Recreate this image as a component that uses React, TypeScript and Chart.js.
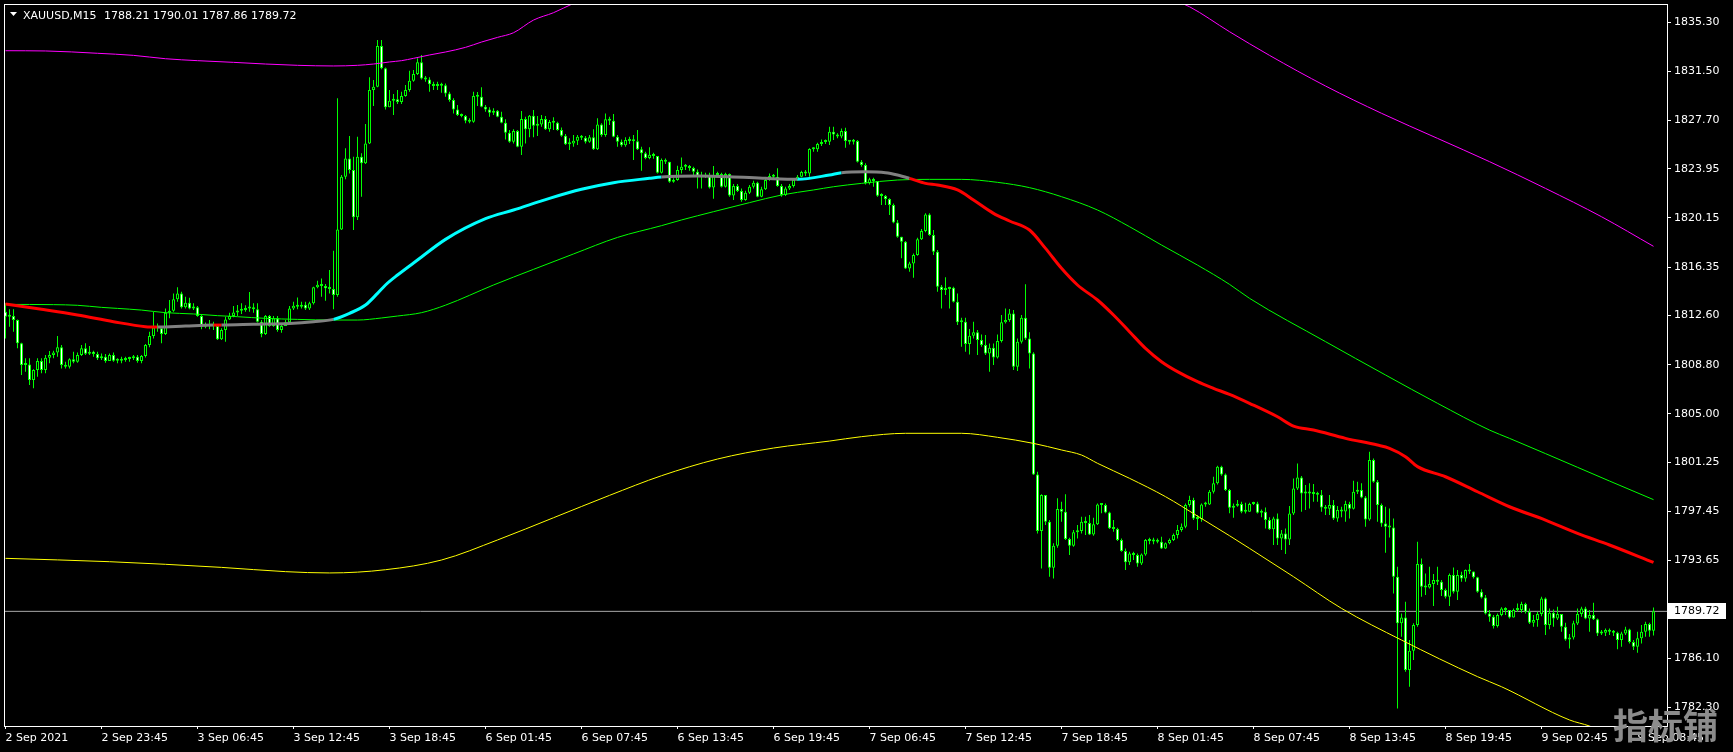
import React, { useEffect, useRef } from "react";
import { Chart, registerables } from "chart.js";

Chart.register(...registerables);

// ---------------- data ----------------
const SYMBOL = "XAUUSD,M15";
const LAST_OHLC = "1788.21 1790.01 1787.86 1789.72";
const CURRENT_PRICE = 1789.72;
const WATERMARK = "指标铺";
const FIRST_OPEN = 1812.9;

const CLOSE = [
  1812.51,1812.56,1812.25,1810.45,1808.77,1808.82,1807.61,1808.38,1809.08,1808.38,
  1809.34,1809.54,1809.73,1810.14,1808.77,1808.64,1809.21,1809.03,1809.54,1810.06,
  1809.65,1809.80,1809.62,1809.29,1809.42,1809.08,1809.54,1809.11,1809.11,1809.16,
  1809.24,1809.29,1809.42,1809.08,1809.47,1810.32,1811.01,1811.68,1811.61,1811.17,
  1812.82,1812.97,1813.85,1814.31,1813.23,1813.59,1813.15,1813.23,1812.56,1811.74,
  1811.84,1811.76,1811.79,1810.76,1811.48,1812.30,1812.56,1812.84,1812.97,1813.02,
  1813.15,1813.15,1813.08,1812.12,1811.17,1812.56,1811.79,1812.38,1811.48,1811.79,
  1812.07,1813.15,1813.36,1813.28,1813.44,1813.15,1813.54,1814.78,1814.98,1814.88,
  1814.70,1814.65,1814.18,1819.26,1823.34,1824.75,1823.85,1820.19,1824.88,1824.37,
  1825.91,1830.04,1830.30,1833.44,1831.72,1828.70,1829.21,1829.32,1829.11,1829.58,
  1830.04,1830.76,1831.28,1832.18,1830.94,1830.86,1830.48,1830.35,1830.37,1830.40,
  1829.78,1829.27,1828.54,1828.11,1828.03,1827.67,1827.59,1829.58,1829.52,1828.75,
  1828.54,1828.29,1828.44,1827.98,1827.51,1826.74,1826.04,1826.87,1825.66,1827.80,
  1827.00,1828.05,1827.28,1827.38,1827.80,1827.00,1827.56,1827.51,1826.95,1826.51,
  1825.84,1825.91,1826.12,1826.43,1826.35,1826.04,1826.38,1825.45,1827.38,1826.56,
  1827.77,1827.67,1826.43,1826.04,1825.76,1826.17,1826.10,1826.07,1825.45,1825.14,
  1824.78,1825.04,1824.94,1823.65,1824.63,1824.50,1822.95,1823.08,1823.85,1824.11,
  1824.11,1824.01,1823.72,1823.34,1823.34,1823.44,1822.51,1823.47,1823.54,1822.56,
  1823.54,1821.89,1822.61,1822.23,1821.53,1822.10,1822.56,1822.87,1821.79,1822.36,
  1823.08,1823.39,1823.34,1822.61,1821.92,1822.43,1822.61,1823.08,1823.34,1823.70,
  1823.59,1825.48,1825.45,1825.86,1826.02,1826.04,1826.82,1826.60,1826.45,1826.87,
  1826.09,1826.04,1826.09,1824.49,1824.24,1822.82,1823.13,1823.00,1821.86,1821.84,
  1821.61,1821.14,1819.80,1818.69,1818.31,1816.24,1816.63,1817.28,1818.49,1819.13,
  1820.42,1818.82,1817.53,1814.83,1814.57,1814.65,1814.75,1813.67,1812.07,1812.12,
  1810.39,1811.04,1811.30,1810.70,1810.31,1809.67,1810.11,1809.36,1810.62,1812.07,
  1812.25,1812.76,1808.64,1810.57,1812.43,1810.83,1809.67,1800.31,1795.93,1798.71,
  1796.65,1793.09,1794.80,1797.63,1797.42,1795.31,1794.80,1795.83,1795.93,1796.65,
  1796.55,1795.67,1796.45,1797.99,1797.94,1797.37,1796.14,1796.09,1795.23,1794.38,
  1793.51,1794.20,1794.07,1793.43,1794.12,1795.23,1795.16,1795.13,1795.10,1794.59,
  1794.98,1795.23,1795.62,1796.01,1796.27,1797.94,1798.33,1796.91,1796.86,1797.99,
  1797.99,1798.97,1799.62,1800.91,1800.31,1799.10,1797.73,1797.89,1798.02,1797.42,
  1797.42,1798.02,1798.07,1797.35,1797.42,1796.78,1796.06,1796.91,1795.36,1795.75,
  1795.28,1797.29,1799.23,1800.08,1798.84,1798.94,1798.84,1798.79,1798.74,1797.76,
  1797.66,1797.94,1796.91,1797.55,1797.45,1798.02,1797.66,1798.97,1799.10,1798.53,
  1796.83,1801.42,1799.74,1797.94,1796.52,1796.26,1796.21,1792.40,1788.79,1789.25,
  1785.18,1786.67,1788.66,1793.38,1791.62,1791.57,1791.83,1792.14,1792.01,1791.37,
  1790.85,1792.53,1791.24,1792.53,1792.27,1792.91,1792.81,1792.35,1791.24,1790.80,
  1789.56,1789.30,1788.58,1789.43,1789.95,1789.82,1789.25,1789.82,1789.82,1790.28,
  1789.69,1788.84,1789.05,1789.51,1790.72,1788.66,1789.61,1789.17,1789.51,1788.53,
  1787.55,1787.70,1788.79,1789.51,1789.95,1789.17,1789.43,1789.10,1788.01,1788.07,
  1788.27,1788.14,1788.07,1787.50,1788.01,1788.32,1787.34,1786.98,1787.63,1788.14,
  1788.74,1788.21,1789.72,
];

const HIGH = [
  1813.54,1813.08,1813.08,1812.30,1810.50,1809.29,1809.29,1808.44,1809.29,1809.29,
  1809.54,1809.85,1809.88,1811.01,1810.32,1809.03,1809.29,1809.80,1809.73,1810.32,
  1810.45,1810.24,1809.88,1809.80,1809.67,1809.62,1809.67,1809.73,1809.29,1809.42,
  1809.42,1809.42,1809.54,1809.54,1809.54,1810.40,1811.35,1812.90,1811.99,1811.61,
  1813.15,1813.80,1814.31,1814.78,1814.44,1814.06,1813.98,1813.54,1813.33,1812.64,
  1812.05,1812.25,1812.12,1811.61,1811.61,1812.51,1812.82,1813.33,1813.41,1813.54,
  1813.39,1814.42,1813.54,1813.54,1812.25,1812.64,1812.64,1812.56,1812.56,1811.94,
  1812.25,1813.33,1813.67,1814.00,1813.67,1813.67,1813.67,1814.83,1815.29,1815.47,
  1815.04,1816.12,1817.61,1829.40,1823.47,1825.53,1826.48,1824.88,1826.43,1825.14,
  1827.41,1831.02,1830.81,1833.91,1833.91,1831.79,1830.04,1829.73,1830.04,1829.91,
  1830.43,1831.53,1831.59,1832.49,1832.75,1831.12,1831.02,1830.68,1830.68,1830.61,
  1830.55,1829.91,1829.40,1828.88,1828.23,1828.11,1827.85,1829.91,1829.88,1830.25,
  1828.88,1828.70,1828.62,1828.49,1828.36,1827.77,1826.95,1827.00,1826.95,1828.42,
  1827.98,1828.11,1828.49,1828.03,1828.11,1828.03,1827.72,1827.93,1827.59,1827.15,
  1826.64,1826.30,1826.56,1826.56,1826.56,1826.48,1826.56,1827.00,1827.85,1827.46,
  1828.23,1827.98,1828.18,1826.56,1826.22,1826.38,1826.43,1826.56,1826.95,1825.66,
  1825.27,1825.61,1825.19,1824.88,1824.75,1824.75,1824.42,1823.21,1824.19,1824.83,
  1824.32,1824.24,1824.11,1823.90,1823.72,1823.65,1823.65,1824.16,1823.72,1823.65,
  1823.65,1823.59,1822.77,1822.77,1822.43,1822.25,1822.69,1823.03,1822.95,1822.56,
  1823.21,1823.59,1823.54,1823.98,1822.77,1822.56,1822.77,1823.21,1823.47,1823.80,
  1823.85,1825.53,1825.61,1825.97,1826.22,1826.22,1827.20,1827.20,1826.69,1827.07,
  1827.12,1826.17,1826.25,1826.17,1824.62,1824.37,1823.26,1823.26,1822.74,1822.05,
  1821.92,1821.66,1821.27,1819.98,1818.69,1818.36,1816.76,1817.40,1818.62,1819.29,
  1820.50,1820.50,1819.21,1817.66,1814.96,1815.55,1814.83,1814.83,1814.31,1812.43,
  1812.43,1811.55,1812.12,1811.48,1811.14,1811.09,1810.44,1810.44,1811.14,1812.64,
  1813.15,1813.10,1813.02,1810.83,1812.64,1815.01,1811.30,1809.75,1800.52,1798.77,
  1798.71,1796.78,1794.98,1798.46,1798.20,1798.77,1795.41,1796.01,1796.39,1797.04,
  1797.04,1797.17,1796.96,1798.07,1798.07,1798.07,1797.42,1796.78,1796.19,1795.36,
  1794.59,1794.33,1794.33,1794.20,1794.20,1795.31,1795.41,1795.41,1795.36,1795.49,
  1795.05,1795.36,1795.75,1796.39,1796.52,1798.07,1798.66,1798.51,1797.17,1798.07,
  1798.20,1799.10,1800.13,1800.98,1800.98,1800.39,1799.18,1798.07,1798.33,1798.20,
  1798.12,1798.12,1798.20,1798.20,1797.60,1797.76,1796.99,1797.04,1797.29,1796.01,
  1796.13,1797.86,1800.00,1801.16,1800.18,1799.49,1799.62,1799.56,1798.97,1799.10,
  1797.94,1798.71,1798.33,1797.86,1797.81,1798.27,1798.20,1799.82,1799.74,1799.62,
  1798.64,1802.06,1801.55,1799.87,1798.07,1797.81,1797.68,1796.91,1793.17,1789.56,
  1790.46,1787.50,1788.79,1795.10,1793.81,1792.65,1793.17,1792.60,1793.17,1792.14,
  1791.49,1792.65,1793.12,1792.91,1792.78,1792.96,1793.38,1792.78,1792.40,1791.42,
  1790.98,1789.82,1789.43,1789.56,1790.03,1790.03,1789.82,1789.95,1790.33,1790.46,
  1790.39,1789.95,1789.43,1789.69,1790.85,1790.80,1789.95,1789.87,1790.08,1789.30,
  1788.84,1787.96,1788.99,1789.95,1790.08,1790.08,1789.82,1790.39,1789.17,1788.27,
  1788.40,1788.40,1788.27,1788.14,1788.14,1788.53,1788.38,1787.50,1788.14,1788.66,
  1788.92,1788.84,1790.01,
];

const LOW = [
  1810.83,1811.74,1811.35,1810.06,1808.00,1808.26,1807.22,1806.97,1807.87,1808.13,
  1808.13,1808.90,1809.29,1809.42,1808.51,1808.51,1808.51,1808.90,1808.95,1809.47,
  1809.54,1809.54,1809.42,1809.16,1809.16,1808.95,1809.42,1809.03,1808.90,1808.90,
  1809.03,1809.03,1809.16,1808.95,1808.90,1809.36,1810.14,1810.83,1811.35,1810.45,
  1811.09,1812.38,1812.90,1813.67,1813.15,1813.15,1813.08,1813.03,1812.51,1811.53,
  1811.61,1811.53,1811.48,1810.71,1810.71,1810.58,1812.25,1812.46,1812.56,1812.72,
  1812.90,1812.90,1812.82,1812.05,1810.91,1811.09,1811.74,1811.74,1811.35,1811.27,
  1811.86,1811.94,1813.03,1813.08,1813.15,1813.03,1813.03,1813.46,1814.70,1814.06,
  1813.75,1814.31,1813.08,1814.06,1819.21,1823.13,1823.59,1819.21,1819.99,1821.79,
  1824.32,1825.86,1828.80,1830.25,1831.64,1828.54,1828.80,1828.11,1828.96,1828.96,
  1829.52,1829.91,1830.68,1831.20,1830.86,1830.68,1829.91,1830.04,1830.04,1829.83,
  1829.52,1829.14,1828.23,1828.03,1827.93,1827.46,1827.46,1827.51,1828.80,1828.70,
  1828.36,1827.98,1828.11,1827.93,1827.46,1826.22,1825.97,1825.91,1825.61,1825.01,
  1825.91,1826.38,1826.38,1826.48,1827.20,1826.95,1826.82,1826.95,1826.89,1826.43,
  1825.79,1825.40,1825.66,1825.79,1826.17,1825.91,1825.97,1825.40,1825.40,1826.43,
  1826.43,1827.33,1826.38,1825.66,1825.66,1825.66,1825.86,1824.63,1825.40,1823.80,
  1824.68,1824.68,1824.73,1823.59,1823.59,1824.32,1822.87,1822.87,1823.03,1823.59,
  1823.85,1823.80,1823.34,1822.43,1822.43,1823.23,1822.43,1821.64,1823.29,1822.51,
  1822.51,1821.79,1821.53,1822.15,1821.40,1821.48,1822.00,1822.43,1821.74,1821.74,
  1822.31,1823.03,1823.13,1822.56,1821.79,1821.84,1822.31,1822.51,1823.03,1823.29,
  1823.39,1823.34,1825.27,1825.27,1825.71,1825.86,1825.79,1826.17,1826.30,1826.30,
  1825.58,1825.83,1825.83,1824.44,1824.11,1822.74,1822.74,1822.56,1821.79,1821.14,
  1821.14,1820.37,1819.73,1818.62,1817.02,1816.19,1815.99,1815.52,1817.22,1818.44,
  1819.03,1818.77,1817.28,1814.44,1813.15,1814.18,1813.15,1813.61,1811.86,1810.19,
  1809.80,1809.59,1810.83,1809.54,1810.19,1809.54,1808.25,1808.77,1809.28,1810.52,
  1811.99,1812.12,1808.38,1808.30,1810.44,1810.70,1808.51,1800.26,1795.75,1793.04,
  1796.39,1792.40,1792.27,1794.64,1796.65,1795.23,1794.07,1794.72,1795.36,1795.75,
  1795.62,1795.62,1795.57,1796.39,1797.30,1797.30,1796.09,1795.88,1795.16,1794.33,
  1792.91,1793.30,1793.69,1793.17,1793.30,1794.02,1794.90,1794.90,1794.98,1794.54,
  1794.54,1794.90,1795.16,1795.36,1795.88,1796.14,1797.81,1796.78,1796.01,1796.65,
  1797.81,1797.94,1798.84,1799.54,1800.21,1799.02,1797.30,1796.96,1797.81,1797.30,
  1797.29,1797.42,1797.94,1797.29,1796.99,1796.13,1796.01,1794.85,1794.85,1794.46,
  1794.15,1794.85,1797.17,1799.10,1797.42,1797.55,1797.68,1798.20,1798.20,1797.42,
  1797.17,1797.17,1796.78,1796.65,1796.99,1796.65,1796.91,1797.60,1798.79,1798.46,
  1796.26,1796.73,1799.67,1796.65,1796.26,1794.25,1795.44,1791.11,1782.21,1787.76,
  1785.05,1783.89,1785.95,1788.53,1790.85,1790.98,1791.49,1790.13,1791.75,1790.90,
  1790.72,1790.13,1791.11,1790.59,1792.01,1792.01,1792.60,1792.27,1791.16,1790.72,
  1789.48,1788.92,1788.40,1788.48,1789.35,1789.43,1789.17,1789.30,1789.69,1789.61,
  1789.56,1788.74,1788.53,1788.53,1789.35,1787.89,1788.33,1788.53,1789.05,1788.14,
  1787.45,1786.85,1787.55,1788.66,1789.30,1789.10,1788.14,1789.05,1787.81,1787.89,
  1787.81,1787.89,1787.81,1786.78,1786.98,1787.89,1787.24,1786.73,1786.52,1787.24,
  1787.76,1787.76,1787.86,
];

// thick trend-coloured moving average (bar index, price)
const MA_IDX = [0,9,18,27,35,38,45,52,54,62,71,77,82,86,90,93,95,98,103,110,120,127,136,144,152,161,164,173,181,190,198,206,209,215,220,223,226,230,233,238,242,247,251,256,260,264,268,273,277,281,285,289,293,298,302,306,311,318,322,327,335,343,346,350,353,360,368,376,385,393,401,412];
const MA_VAL = [1813.49,1813.08,1812.64,1812.12,1811.74,1811.71,1811.79,1811.86,1811.86,1811.92,1811.99,1812.12,1812.30,1812.77,1813.41,1814.31,1814.96,1815.73,1816.89,1818.49,1820.09,1820.76,1821.66,1822.36,1822.87,1823.21,1823.31,1823.39,1823.34,1823.21,1823.13,1823.47,1823.65,1823.72,1823.65,1823.47,1823.21,1822.82,1822.69,1822.31,1821.53,1820.50,1819.91,1819.21,1817.79,1816.25,1814.96,1813.80,1812.64,1811.35,1810.06,1809.03,1808.26,1807.48,1806.97,1806.50,1805.81,1804.77,1804.05,1803.74,1803.10,1802.58,1802.33,1801.68,1800.91,1800.13,1798.97,1797.81,1796.78,1795.75,1794.85,1793.50];
const MA_TREND_FROM = [0, 38, 52, 54, 82, 164, 198, 209, 226];
const MA_TREND = ["down", "flat", "down", "flat", "up", "flat", "up", "flat", "down"];

// channel: middle, upper, lower lines
const MID_IDX = [0,12,18,24,28,34,40,47,53,58,65,73,82,88,94,98,104,110,122,132,142,153,164,169,177,186,194,202,207,214,223,231,239,248,256,264,273,281,289,298,306,311,330,345,358,371,376,385,393,401,412];
const MID_VAL = [1813.46,1813.44,1813.39,1813.23,1813.15,1813.02,1812.82,1812.72,1812.59,1812.51,1812.38,1812.30,1812.25,1812.25,1812.41,1812.56,1812.82,1813.40,1814.96,1816.17,1817.36,1818.64,1819.55,1819.99,1820.63,1821.33,1821.92,1822.31,1822.56,1822.82,1823.08,1823.13,1823.13,1822.90,1822.49,1821.79,1820.76,1819.47,1818.05,1816.50,1815.01,1813.93,1810.58,1808.00,1805.81,1803.74,1803.10,1801.92,1800.86,1799.80,1798.36];
const UP_IDX = [0,10,23,32,40,48,57,65,73,82,88,92,96,99,102,106,110,115,119,123,127,132,137,142,153,164,186,206,223,239,256,264,273,281,289,296,306,316,330,344,358,371,385,399,412];
const UP_VAL = [1833.08,1833.06,1832.88,1832.72,1832.46,1832.31,1832.18,1832.05,1831.95,1831.90,1831.95,1832.05,1832.21,1832.31,1832.49,1832.75,1832.98,1833.34,1833.75,1834.11,1834.47,1835.45,1836.02,1836.74,1838.16,1839.55,1841.38,1842.23,1842.67,1842.77,1842.26,1841.38,1840.35,1838.93,1837.39,1836.48,1834.55,1832.72,1830.35,1828.24,1826.30,1824.50,1822.43,1820.24,1817.95];
const LO_IDX = [0,26,54,70,81,95,109,123,137,151,164,178,192,206,214,225,239,248,257,264,269,273,281,290,298,306,311,322,334,349,368,374,391,396,412];
const LO_VAL = [1793.82,1793.56,1793.12,1792.79,1792.69,1792.94,1793.69,1795.24,1796.96,1798.69,1800.21,1801.50,1802.35,1802.89,1803.23,1803.49,1803.49,1803.18,1802.71,1802.20,1801.81,1801.17,1800.01,1798.59,1797.09,1795.57,1794.59,1792.40,1789.95,1787.50,1784.67,1783.89,1781.32,1780.85,1778.74];

const X_TICK_IDX = [0,24,48,72,96,120,144,168,192,216,240,264,288,312,336,360,384,408];
const X_TICK_LABELS = [
  "2 Sep 2021","2 Sep 23:45","3 Sep 06:45","3 Sep 12:45","3 Sep 18:45","6 Sep 01:45",
  "6 Sep 07:45","6 Sep 13:45","6 Sep 19:45","7 Sep 06:45","7 Sep 12:45","7 Sep 18:45",
  "8 Sep 01:45","8 Sep 07:45","8 Sep 13:45","8 Sep 19:45","9 Sep 02:45","9 Sep 08:45",
];
const Y_TICKS = [1835.3,1831.5,1827.7,1823.95,1820.15,1816.35,1812.6,1808.8,1805.0,1801.25,1797.45,1793.65,1786.1,1782.3];

// ---------------- styles / geometry ----------------
const W = 1733;
const H = 752;
const Y_MIN = 1780.853;
const Y_MAX = 1836.615;
const X_MIN = -0.125;
const X_MAX = 415.375;
const FONT = "DejaVu Sans";
const CANDLE = "#00ff00";
const TREND_COLOR: Record<string, string> = { up: "#00ffff", down: "#ff0000", flat: "#808080" };

const mt4Plugin = {
  id: "mt4",
  beforeDraw(chart: any) {
    const ctx = chart.ctx;
    ctx.save();
    ctx.fillStyle = "#000000";
    ctx.fillRect(0, 0, chart.width, chart.height);
    ctx.restore();
  },
  afterDatasetsDraw(chart: any) {
    const { ctx, chartArea: a } = chart;
    ctx.save();
    ctx.strokeStyle = "#ffffff";
    ctx.lineWidth = 1;
    ctx.strokeRect(a.left - 0.5, a.top - 0.5, a.right - a.left + 1, a.bottom - a.top + 1);
    ctx.restore();
  },
  afterDraw(chart: any) {
    const ctx = chart.ctx;
    ctx.save();
    // title
    ctx.fillStyle = "#ffffff";
    ctx.beginPath();
    ctx.moveTo(10, 12);
    ctx.lineTo(17, 12);
    ctx.lineTo(13.5, 16);
    ctx.closePath();
    ctx.fill();
    ctx.font = `11px "${FONT}"`;
    ctx.textBaseline = "alphabetic";
    ctx.textAlign = "left";
    ctx.fillText(SYMBOL, 23, 18.5);
    ctx.fillText(LAST_OHLC, 104, 18.5);
    // current price label
    const y = chart.scales.y.getPixelForValue(CURRENT_PRICE);
    const yr = Math.round(y);
    ctx.fillStyle = "#ffffff";
    ctx.fillRect(1668, yr - 8, 58, 16);
    ctx.fillStyle = "#000000";
    ctx.textBaseline = "middle";
    ctx.fillText(CURRENT_PRICE.toFixed(2), 1674, yr);
    // watermark
    ctx.fillStyle = "#8c8c8c";
    ctx.font = `bold 35px "Noto Sans CJK SC"`;
    ctx.textBaseline = "middle";
    ctx.fillText(WATERMARK, 1613, 726);
    ctx.restore();
  },
};

export default function App() {
  const ref = useRef<HTMLCanvasElement | null>(null);

  useEffect(() => {
    document.body.style.margin = "0";
    document.body.style.background = "#000";
    document.body.style.overflow = "hidden";
    const canvas = ref.current;
    if (!canvas) return;

    Chart.defaults.font.family = FONT;
    Chart.defaults.font.size = 11;
    Chart.defaults.color = "#ffffff";

    const n = Math.min(CLOSE.length, HIGH.length, LOW.length);
    const wicks: any[] = [];
    const bodies: any[] = [];
    const fills: string[] = [];
    for (let i = 0; i < n; i++) {
      const o = i === 0 ? FIRST_OPEN : CLOSE[i - 1];
      const c = CLOSE[i];
      wicks.push({ x: i, y: [Math.min(LOW[i], o, c), Math.max(HIGH[i], o, c)] });
      bodies.push({ x: i, y: [o, c] });
      fills.push(c < o ? "#ffffff" : "#000000");
    }
    const pts = (idx: number[], val: number[]) => {
      const m = Math.min(idx.length, val.length);
      const out: any[] = [];
      for (let k = 0; k < m; k++) out.push({ x: idx[k], y: val[k] });
      return out;
    };
    const trendAt = (x: number) => {
      let t = MA_TREND[0];
      for (let k = 0; k < MA_TREND_FROM.length; k++) if (x >= MA_TREND_FROM[k]) t = MA_TREND[k];
      return TREND_COLOR[t];
    };

    const thinLine = (data: any[], color: string, order: number) => ({
      type: "line",
      data,
      borderColor: color,
      borderWidth: 1,
      pointRadius: 0,
      fill: false,
      cubicInterpolationMode: "monotone",
      clip: 0,
      order,
    });

    const chart = new Chart(canvas, {
      type: "bar",
      data: {
        datasets: [
          {
            type: "line",
            data: [{ x: X_MIN, y: CURRENT_PRICE }, { x: X_MAX, y: CURRENT_PRICE }],
            borderColor: "#a8a8a8",
            borderWidth: 1,
            pointRadius: 0,
            clip: 0,
            order: 9,
          },
          {
            type: "bar",
            data: wicks,
            backgroundColor: CANDLE,
            borderWidth: 0,
            barThickness: 1,
            grouped: false,
            inflateAmount: 0,
            order: 8,
          },
          {
            type: "bar",
            data: bodies,
            backgroundColor: fills,
            borderColor: CANDLE,
            borderWidth: 1,
            borderSkipped: false,
            barThickness: 3,
            minBarLength: 2,
            grouped: false,
            inflateAmount: 0,
            order: 7,
          },
          thinLine(pts(UP_IDX, UP_VAL), "#ff00ff", 4),
          thinLine(pts(LO_IDX, LO_VAL), "#ffff00", 3),
          thinLine(pts(MID_IDX, MID_VAL), "#00ff00", 2),
          {
            type: "line",
            data: pts(MA_IDX, MA_VAL),
            borderColor: "#ff0000",
            borderWidth: 3,
            pointRadius: 0,
            fill: false,
            cubicInterpolationMode: "monotone",
            clip: 0,
            order: 1,
            segment: {
              borderColor: (ctx: any) => trendAt(ctx.p0.parsed.x),
            },
          },
        ] as any,
      },
      options: {
        animation: false,
        responsive: false,
        devicePixelRatio: 1,
        events: [],
        layout: { padding: { left: 5, top: 5, right: 0, bottom: 0 } },
        plugins: {
          legend: { display: false },
          tooltip: { enabled: false },
          title: { display: false },
        },
        scales: {
          x: {
            type: "linear",
            position: "bottom",
            min: X_MIN,
            max: X_MAX,
            offset: false,
            border: { display: false },
            grid: {
              display: true,
              offset: false,
              drawOnChartArea: false,
              drawTicks: true,
              tickLength: 3,
              color: "#ffffff",
              lineWidth: 1,
            },
            ticks: {
              color: "#ffffff",
              font: { family: FONT, size: 11 },
              align: "start",
              padding: 3,
              maxRotation: 0,
              minRotation: 0,
              autoSkip: false,
              callback: (_v: any, i: number) => X_TICK_LABELS[i] ?? "",
            },
            afterBuildTicks: (scale: any) => {
              scale.ticks = X_TICK_IDX.map((v) => ({ value: v }));
            },
            afterFit: (scale: any) => {
              scale.height = H - 726;
              scale.paddingLeft = 0;
              scale.paddingRight = 0;
            },
          },
          y: {
            type: "linear",
            position: "right",
            min: Y_MIN,
            max: Y_MAX,
            beginAtZero: false,
            border: { display: false },
            grid: {
              display: true,
              drawOnChartArea: false,
              drawTicks: true,
              tickLength: 4,
              color: "#ffffff",
              lineWidth: 1,
            },
            ticks: {
              color: "#ffffff",
              font: { family: FONT, size: 11 },
              padding: 3,
              autoSkip: false,
              callback: (v: any) => Number(v).toFixed(2),
            },
            afterBuildTicks: (scale: any) => {
              scale.ticks = Y_TICKS.map((v) => ({ value: v }));
            },
            afterFit: (scale: any) => {
              scale.width = W - 1667;
              scale.paddingTop = 0;
              scale.paddingBottom = 0;
            },
          },
        },
      } as any,
      plugins: [mt4Plugin],
    } as any);

    return () => chart.destroy();
  }, []);

  return (
    <div style={{ position: "fixed", left: 0, top: 0, width: W, height: H, background: "#000" }}>
      <canvas ref={ref} width={W} height={H} style={{ display: "block", width: W, height: H }} />
    </div>
  );
}
